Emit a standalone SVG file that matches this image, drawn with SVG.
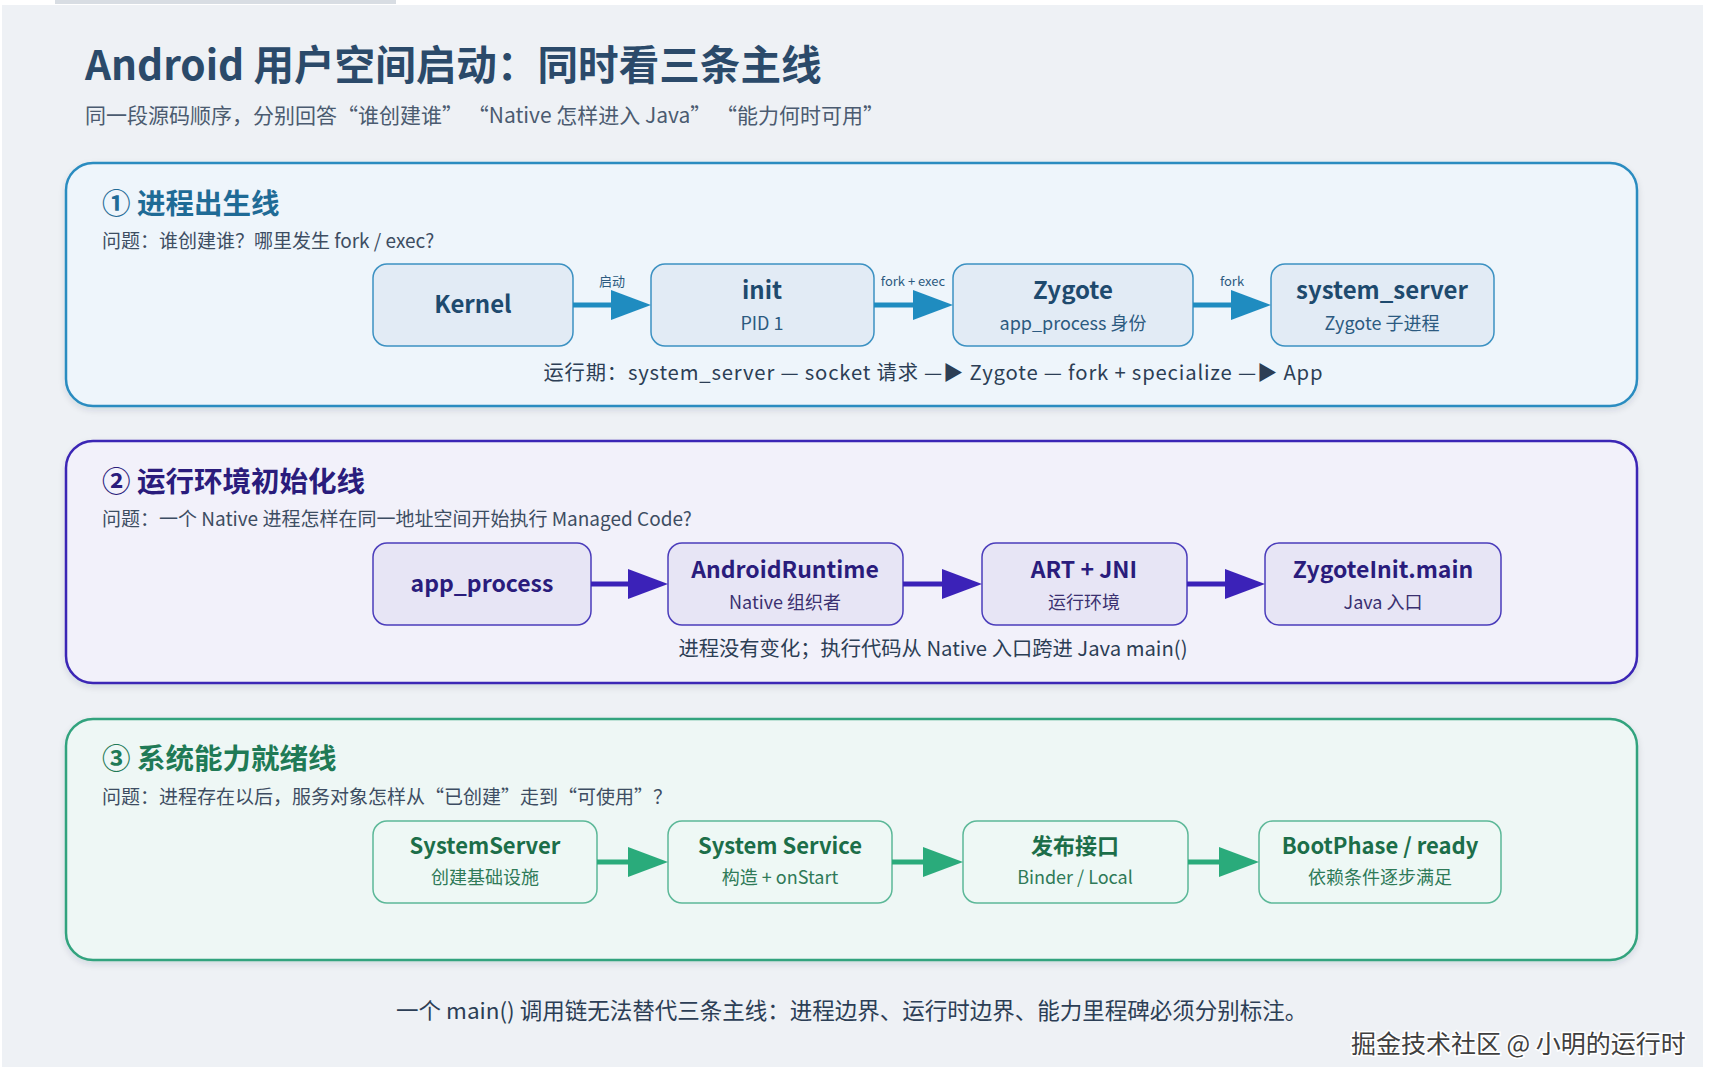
<svg xmlns="http://www.w3.org/2000/svg" width="1715" height="1088" viewBox="0 0 1715 1088">
<defs>
<filter id="sh" x="-5%" y="-10%" width="110%" height="125%">
<feDropShadow dx="0" dy="3" stdDeviation="3" flood-color="#1a2a40" flood-opacity="0.12"/>
</filter>
</defs>
<style>
text{font-family:"Noto Sans CJK SC","Noto Sans",sans-serif;}
.title{font-size:40.6px;font-weight:700;fill:#2b4a6a;}
.sub{font-size:21px;fill:#4b5b70;}
.h{font-size:28.5px;font-weight:700;}
.q{font-size:19px;fill:#3d4d62;}
.nt{font-size:24px;font-weight:700;text-anchor:middle;}
.ns{font-size:18px;text-anchor:middle;}
.note{font-size:20.3px;fill:#2c3e55;text-anchor:middle;}
.el{font-size:13px;fill:#2c5a80;text-anchor:middle;}
.p1{fill:#eef5fb;stroke:#2b8cc0;stroke-width:2.5;}
.p2{fill:#f2f1fa;stroke:#3b25b5;stroke-width:2.5;}
.p3{fill:#eef7f5;stroke:#33a37e;stroke-width:2.5;}
.n1{fill:#e2ebf5;stroke:#3c91c2;stroke-width:1.5;}
.n2{fill:#e7e5f5;stroke:#4b3dbb;stroke-width:1.5;}
.n3{fill:#eef8f5;stroke:#5cb898;stroke-width:1.5;}
.t1{fill:#1e4a6e;} .s1{fill:#2c5a80;}
.t2{fill:#2a1c7c;font-size:23px;} .s2{fill:#3a3070;}
.t3{fill:#1c6e49;font-size:22px;} .s3{fill:#2f7a58;}
.a1{stroke:#1f8cc0;stroke-width:5;} .f1{fill:#1f8cc0;}
.a2{stroke:#3b22b8;stroke-width:5;} .f2{fill:#3b22b8;}
.a3{stroke:#2aab7b;stroke-width:5;} .f3{fill:#2aab7b;}
.wm{font-size:25px;fill:#404040;stroke:#ffffff;stroke-width:3;paint-order:stroke;}
</style>
<rect x="0" y="0" width="1715" height="1088" fill="#ffffff"/>
<rect x="2" y="5" width="1701" height="1062" fill="#eef1f5"/>
<rect x="55" y="0" width="341" height="4" fill="#d8dde3"/>

<g id="header">
<text class="title" x="85" y="80">Android 用户空间启动：同时看三条主线</text>
<text class="sub" x="85" y="123">同一段源码顺序，分别回答“谁创建谁” “Native 怎样进入 Java” “能力何时可用”</text>
</g>

<g id="panel1">
<rect class="p1" x="66" y="163" width="1571" height="243" rx="27" filter="url(#sh)"/>
<text class="h" x="102" y="214" fill="#1f6b96">① 进程出生线</text>
<text class="q" x="102" y="248">问题：谁创建谁？哪里发生 fork / exec?</text>
<text class="note" x="933" y="380" textLength="779" lengthAdjust="spacing">运行期：system_server — socket 请求 —▶ Zygote — fork + specialize —▶ App</text>
</g>
<g id="node-kernel"><rect class="n1" x="373" y="264" width="200" height="82" rx="14"/><text class="nt t1" x="473" y="313">Kernel</text></g>
<g id="node-init"><rect class="n1" x="651" y="264" width="223" height="82" rx="14"/><text class="nt t1" x="762" y="299">init</text><text class="ns s1" x="762" y="330">PID 1</text></g>
<g id="node-zygote"><rect class="n1" x="953" y="264" width="240" height="82" rx="14"/><text class="nt t1" x="1073" y="299">Zygote</text><text class="ns s1" x="1073" y="330">app_process 身份</text></g>
<g id="node-system_server"><rect class="n1" x="1271" y="264" width="223" height="82" rx="14"/><text class="nt t1" x="1382" y="299">system_server</text><text class="ns s1" x="1382" y="330">Zygote 子进程</text></g>

<g id="panel2">
<rect class="p2" x="66" y="441" width="1571" height="242" rx="27" filter="url(#sh)"/>
<text class="h" x="102" y="492" fill="#2a1c7c">② 运行环境初始化线</text>
<text class="q" x="102" y="526">问题：一个 Native 进程怎样在同一地址空间开始执行 Managed Code?</text>
<text class="note" x="933" y="656">进程没有变化；执行代码从 Native 入口跨进 Java main()</text>
</g>
<g id="node-app_process"><rect class="n2" x="373" y="543" width="218" height="82" rx="14"/><text class="nt t2" x="482" y="592">app_process</text></g>
<g id="node-androidruntime"><rect class="n2" x="668" y="543" width="235" height="82" rx="14"/><text class="nt t2" x="785" y="578">AndroidRuntime</text><text class="ns s2" x="785" y="609">Native 组织者</text></g>
<g id="node-art"><rect class="n2" x="982" y="543" width="205" height="82" rx="14"/><text class="nt t2" x="1084" y="578">ART + JNI</text><text class="ns s2" x="1084" y="609">运行环境</text></g>
<g id="node-zygoteinit"><rect class="n2" x="1265" y="543" width="236" height="82" rx="14"/><text class="nt t2" x="1383" y="578">ZygoteInit.main</text><text class="ns s2" x="1383" y="609">Java 入口</text></g>

<g id="panel3">
<rect class="p3" x="66" y="719" width="1571" height="241" rx="27" filter="url(#sh)"/>
<text class="h" x="102" y="769" fill="#1f7a56">③ 系统能力就绪线</text>
<text class="q" x="102" y="804">问题：进程存在以后，服务对象怎样从“已创建”走到“可使用”？</text>
</g>
<g id="node-systemserver"><rect class="n3" x="373" y="821" width="224" height="82" rx="14"/><text class="nt t3" x="485" y="854">SystemServer</text><text class="ns s3" x="485" y="884">创建基础设施</text></g>
<g id="node-systemservice"><rect class="n3" x="668" y="821" width="224" height="82" rx="14"/><text class="nt t3" x="780" y="854">System Service</text><text class="ns s3" x="780" y="884">构造 + onStart</text></g>
<g id="node-publish"><rect class="n3" x="963" y="821" width="225" height="82" rx="14"/><text class="nt t3" x="1075" y="854">发布接口</text><text class="ns s3" x="1075" y="884">Binder / Local</text></g>
<g id="node-bootphase"><rect class="n3" x="1259" y="821" width="242" height="82" rx="14"/><text class="nt t3" x="1380" y="854">BootPhase / ready</text><text class="ns s3" x="1380" y="884">依赖条件逐步满足</text></g>

<g id="connectors">
<line class="a1" x1="573" y1="305" x2="613" y2="305"/><polygon class="f1" points="611,290 651,305 611,320"/>
<line class="a1" x1="874" y1="305" x2="915" y2="305"/><polygon class="f1" points="913,290 953,305 913,320"/>
<line class="a1" x1="1193" y1="305" x2="1233" y2="305"/><polygon class="f1" points="1231,290 1271,305 1231,320"/>
<text class="el" x="612" y="286">启动</text>
<text class="el" x="913" y="286">fork + exec</text>
<text class="el" x="1232" y="286">fork</text>
<line class="a2" x1="591" y1="584" x2="630" y2="584"/><polygon class="f2" points="628,569 668,584 628,599"/>
<line class="a2" x1="903" y1="584" x2="944" y2="584"/><polygon class="f2" points="942,569 982,584 942,599"/>
<line class="a2" x1="1187" y1="584" x2="1227" y2="584"/><polygon class="f2" points="1225,569 1265,584 1225,599"/>
<line class="a3" x1="597" y1="862" x2="630" y2="862"/><polygon class="f3" points="628,847 668,862 628,877"/>
<line class="a3" x1="892" y1="862" x2="925" y2="862"/><polygon class="f3" points="923,847 963,862 923,877"/>
<line class="a3" x1="1188" y1="862" x2="1221" y2="862"/><polygon class="f3" points="1219,847 1259,862 1219,877"/>
</g>

<g id="footer">
<text x="396" y="1019" font-size="22.5" fill="#2c3e55">一个 main() 调用链无法替代三条主线：进程边界、运行时边界、能力里程碑必须分别标注。</text>
<text class="wm" x="1351" y="1053">掘金技术社区 @ 小明的运行时</text>
</g>
</svg>
